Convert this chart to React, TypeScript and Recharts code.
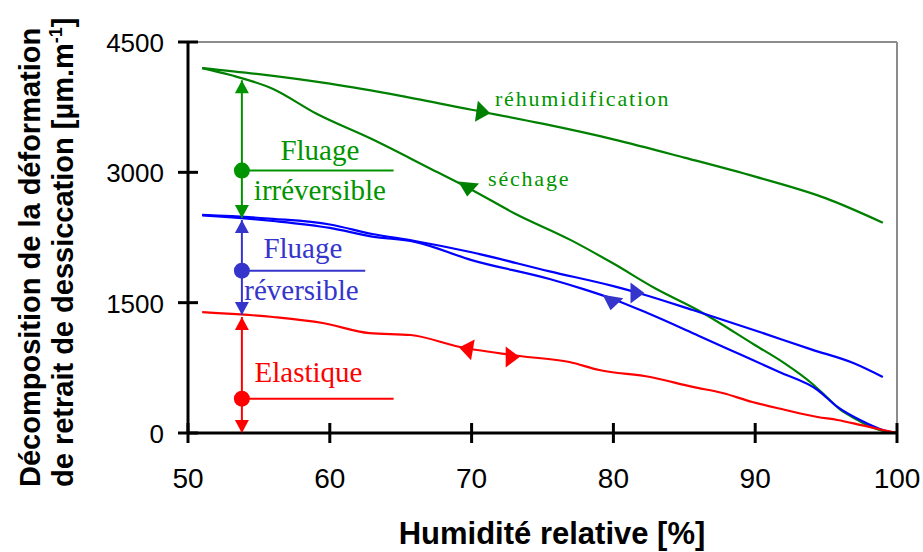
import React from 'react';
import { LineChart, Line, XAxis, YAxis, ReferenceLine, ReferenceDot } from 'recharts';

// humidité relative [%] -> déformation [µm/m]
const rehumGreenX = [51, 55, 60, 65, 70, 75, 80, 85, 90, 95, 99];
const rehumGreenY = [4200, 4130, 4020, 3880, 3720, 3560, 3380, 3170, 2950, 2700, 2420];

const sechGreenX = [51, 53, 56, 59, 63, 67, 70, 73, 77, 80, 83, 86, 90, 92, 94, 95, 96, 97, 98, 99, 100];
const sechGreenY = [4200, 4120, 3960, 3680, 3380, 3050, 2800, 2530, 2220, 1950, 1660, 1410, 1010, 810, 570, 420, 270, 170, 80, 25, 0];

const rehumBlueX = [51, 56, 60, 63, 66, 70, 75.5, 80, 82, 85.6, 90, 94, 97, 99];
const rehumBlueY = [2510, 2465, 2400, 2290, 2210, 2080, 1860, 1690, 1600, 1415, 1180, 960, 800, 645];

const sechBlueX = [51, 56, 60, 63, 66, 70, 75.5, 78, 80, 82.4, 86, 89, 91.7, 94.4, 95.8, 97.5, 99, 100];
const sechBlueY = [2505, 2440, 2360, 2260, 2200, 1990, 1772, 1650, 1540, 1380, 1120, 900, 702, 495, 300, 140, 35, 0];

const elastX = [51, 56, 59.5, 62.8, 65.7, 69.2, 73.4, 76.9, 79, 82.6, 85.6, 87.7, 89.8, 92, 94.4, 95.8, 97.5, 99, 100];
const elastY = [1392, 1335, 1266, 1150, 1128, 990, 886, 817, 725, 644, 530, 460, 357, 270, 184, 150, 90, 35, 0];

const xTicks = [50, 60, 70, 80, 90, 100];
const yTicks = [0, 1500, 3000, 4500];

const zip = (xs: number[], ys: number[]) => xs.map((x, i) => ({ x, y: ys[i] }));

const GREEN = '#008000';
const GREEN_TXT = '#009400';
const BLUE = '#0000FF';
const BLUE_TXT = '#3535CC';
const RED = '#FF0000';

// annotation bars on the left (x = 53.8 %)
const barX = 53.8;
const bars = [
  { color: GREEN_TXT, top: 4060, bottom: 2474, dot: 3020, lineEnd: 64.5, labels: [{ x: 59.3, y: 3142, t: 'Fluage' }, { x: 59.3, y: 2681, t: 'irréversible' }] },
  { color: BLUE_TXT, top: 2451, bottom: 1358, dot: 1868, lineEnd: 62.5, labels: [{ x: 58.1, y: 2014, t: 'Fluage' }, { x: 58.0, y: 1530, t: 'réversible' }] },
  { color: RED, top: 1335, bottom: 0, dot: 395, lineEnd: 64.5, labels: [{ x: 58.5, y: 587, t: 'Elastique' }] },
];

// direction arrows sitting on the curves
const curveArrows = [
  { x: 70.73, y: 3694, angle: 8, color: GREEN },
  { x: 69.75, y: 2819, angle: 96, color: GREEN },
  { x: 81.6, y: 1611, angle: 0, color: BLUE_TXT },
  { x: 79.9, y: 1507, angle: 100, color: BLUE_TXT },
  { x: 69.7, y: 967, angle: 190, color: RED },
  { x: 72.8, y: 875, angle: 0, color: RED },
];

const curveLabels = [
  { x: 71.65, y: 3763, t: 'réhumidification' },
  { x: 71.16, y: 2842, t: 'séchage' },
];

const arrowShape = (angle: number, color: string) => (props: any) => {
  const { cx, cy } = props;
  const a = (angle * Math.PI) / 180;
  const dx = Math.cos(a), dy = Math.sin(a);
  const px = -dy, py = dx;
  const L = 14, W = 21;
  const pts = [
    [cx + dx * L * 0.6, cy + dy * L * 0.6],
    [cx - dx * L * 0.4 + px * W / 2, cy - dy * L * 0.4 + py * W / 2],
    [cx - dx * L * 0.4 - px * W / 2, cy - dy * L * 0.4 - py * W / 2],
  ];
  return <polygon points={pts.map((p) => p.join(',')).join(' ')} fill={color} />;
};

// tip anchored vertical arrowhead, up = true points upwards
const tipShape = (up: boolean, color: string) => (props: any) => {
  const { cx, cy } = props;
  const s = up ? 1 : -1;
  return <polygon points={`${cx},${cy} ${cx - 7},${cy + 13 * s} ${cx + 7},${cy + 13 * s}`} fill={color} />;
};

const textShape = (t: string, color: string, size: number, anchor: string, spacing = 0) => (props: any) => (
  <text x={props.cx} y={props.cy} fill={color} fontSize={size} fontFamily="'Liberation Serif', serif" textAnchor={anchor} letterSpacing={spacing}>
    {t}
  </text>
);

const XTick = (props: any) => {
  const { x, y, payload } = props;
  return (
    <g>
      <line x1={x} x2={x} y1={y - 10} y2={y + 10} stroke="#000" strokeWidth={3} />
      <text x={x} y={y + 55} textAnchor="middle" fontSize={28} fontFamily="'Liberation Sans', Arial, sans-serif" fill="#000">
        {payload.value}
      </text>
    </g>
  );
};

const YTick = (props: any) => {
  const { x, y, payload } = props;
  return (
    <g>
      <line x1={x - 10} x2={x + 10} y1={y} y2={y} stroke="#000" strokeWidth={3} />
      <text x={x - 24} y={y + 10} textAnchor="end" fontSize={26} fontFamily="'Liberation Sans', Arial, sans-serif" fill="#000">
        {payload.value}
      </text>
    </g>
  );
};

export default function App() {
  const sans = "'Liberation Sans', Arial, sans-serif";
  return (
    <div style={{ position: 'absolute', left: 0, top: 0, width: 923, height: 552, background: '#fff' }}>
      <LineChart width={923} height={552} margin={{ top: 42, right: 26, left: 88, bottom: 59 }}>
        <XAxis
          type="number"
          dataKey="x"
          domain={[50, 100]}
          ticks={xTicks}
          interval={0}
          tickSize={0}
          tickMargin={0}
          tickLine={false}
          tick={<XTick />}
          height={60}
          axisLine={{ stroke: '#000', strokeWidth: 3 }}
          allowDataOverflow
        />
        <YAxis
          type="number"
          domain={[0, 4500]}
          ticks={yTicks}
          interval={0}
          tickSize={0}
          tickMargin={0}
          tickLine={false}
          tick={<YTick />}
          width={100}
          axisLine={{ stroke: '#000', strokeWidth: 3 }}
          allowDataOverflow
        />
        <ReferenceLine y={4500} stroke="#8c8c8c" strokeWidth={2} />
        <ReferenceLine x={100} stroke="#8c8c8c" strokeWidth={2} />

        <Line data={zip(rehumGreenX, rehumGreenY)} dataKey="y" stroke={GREEN} strokeWidth={2.2} dot={false} isAnimationActive={false} type="monotone" />
        <Line data={zip(sechGreenX, sechGreenY)} dataKey="y" stroke={GREEN} strokeWidth={2.2} dot={false} isAnimationActive={false} type="monotone" />
        <Line data={zip(rehumBlueX, rehumBlueY)} dataKey="y" stroke={BLUE} strokeWidth={2.2} dot={false} isAnimationActive={false} type="monotone" />
        <Line data={zip(sechBlueX, sechBlueY)} dataKey="y" stroke={BLUE} strokeWidth={2.2} dot={false} isAnimationActive={false} type="monotone" />
        <Line data={zip(elastX, elastY)} dataKey="y" stroke={RED} strokeWidth={2.2} dot={false} isAnimationActive={false} type="monotone" />

        {bars.map((b, i) => (
          <ReferenceLine key={'v' + i} segment={[{ x: barX, y: b.top }, { x: barX, y: b.bottom }]} stroke={b.color} strokeWidth={2} />
        ))}
        {bars.map((b, i) => (
          <ReferenceLine key={'h' + i} segment={[{ x: barX, y: b.dot }, { x: b.lineEnd, y: b.dot }]} stroke={b.color} strokeWidth={2} />
        ))}
        {bars.map((b, i) => (
          <ReferenceDot key={'c' + i} x={barX} y={b.dot} r={8} fill={b.color} stroke="none" />
        ))}
        {bars.map((b, i) => (
          <ReferenceDot key={'t' + i} x={barX} y={b.top} shape={tipShape(true, b.color)} />
        ))}
        {bars.map((b, i) => (
          <ReferenceDot key={'b' + i} x={barX} y={b.bottom} shape={tipShape(false, b.color)} />
        ))}
        {bars.flatMap((b, i) =>
          b.labels.map((l, j) => (
            <ReferenceDot key={'l' + i + '-' + j} x={l.x} y={l.y} shape={textShape(l.t, b.color, 29, 'middle')} />
          ))
        )}
        {curveArrows.map((a, i) => (
          <ReferenceDot key={'a' + i} x={a.x} y={a.y} shape={arrowShape(a.angle, a.color)} />
        ))}
        {curveLabels.map((l, i) => (
          <ReferenceDot key={'cl' + i} x={l.x} y={l.y} shape={textShape(l.t, GREEN_TXT, 22, 'start', 1.8)} />
        ))}
      </LineChart>
      <svg width={923} height={552} style={{ position: 'absolute', left: 0, top: 0, pointerEvents: 'none' }}>
        <text transform="translate(40,487) rotate(-90)" fontSize={29} fontWeight="bold" fontFamily={sans} fill="#000">
          Décomposition de la déformation
        </text>
        <text transform="translate(73,487) rotate(-90)" fontSize={29} fontWeight="bold" fontFamily={sans} fill="#000">
          de retrait de dessiccation [µm.m
          <tspan dy={-11} fontSize={18}>-1</tspan>
          <tspan dy={11}>]</tspan>
        </text>
        <text x={552} y={544} textAnchor="middle" fontSize={31} fontWeight="bold" fontFamily={sans} fill="#000">
          Humidité relative [%]
        </text>
      </svg>
    </div>
  );
}
